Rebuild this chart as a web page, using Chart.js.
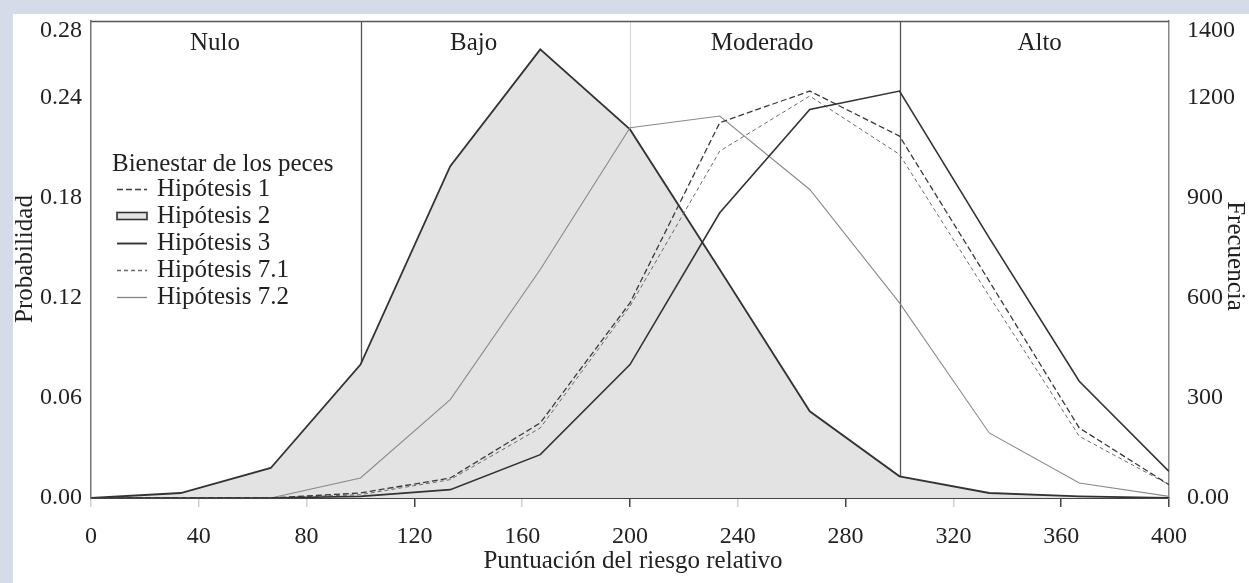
<!DOCTYPE html>
<html><head><meta charset="utf-8">
<script src="https://cdn.jsdelivr.net/npm/chart.js@4.4.0/dist/chart.umd.min.js"></script>
<style>
html,body{margin:0;padding:0;background:#d6dbe9;width:1249px;height:583px;overflow:hidden}
#wrap{position:absolute;left:13px;top:14px;width:1236px;height:569px;background:#fff}
canvas{display:block}
</style></head><body>
<div id="wrap"><canvas id="c" width="1236" height="569"></canvas></div>
<script>
// ---- data ----
const scores  = [0, 33.3, 66.7, 100, 133.3, 166.7, 200, 233.3, 266.7, 300, 333.3, 366.7, 400];
const hip1    = [0, 0, 0, 0.003, 0.012, 0.045, 0.117, 0.225, 0.244, 0.217, 0.130, 0.042, 0.008];
const hip2    = [0, 0.003, 0.018, 0.080, 0.199, 0.269, 0.221, 0.137, 0.052, 0.013, 0.003, 0.001, 0];
const hip3    = [0, 0, 0, 0.001, 0.005, 0.026, 0.080, 0.171, 0.233, 0.244, 0.156, 0.070, 0.016];
const hip71   = [0, 0, 0, 0.002, 0.011, 0.042, 0.115, 0.208, 0.241, 0.206, 0.121, 0.037, 0.008];
const hip72   = [0, 0, 0, 0.012, 0.059, 0.137, 0.222, 0.229, 0.185, 0.117, 0.039, 0.009, 0.001];
const seriesNames = ['Hipótesis 1', 'Hipótesis 2', 'Hipótesis 3', 'Hipótesis 7.1', 'Hipótesis 7.2'];
const xTicks    = [0, 40, 80, 120, 160, 200, 240, 280, 320, 360, 400];
const probTicks = [0, 0.06, 0.12, 0.18, 0.24, 0.28];
const freqTicks = [0, 300, 600, 900, 1200, 1400];
const regionNames  = ['Nulo', 'Bajo', 'Moderado', 'Alto'];
const regionBounds = [100, 200, 300];
const legendTitle = 'Bienestar de los peces';
const xTitle = 'Puntuación del riesgo relativo';
const yTitle = 'Probabilidad';
const y2Title = 'Frecuencia';

const FONT = "'Liberation Serif', 'Times New Roman', serif";
const pts = arr => arr.map((v, i) => ({x: scores[i], y: v}));

const datasets = [
  {label: seriesNames[0], data: pts(hip1),  borderColor: '#3a3a3a', borderWidth: 1.3, borderDash: [6, 3], order: 2, fill: false},
  {label: seriesNames[1], data: pts(hip2),  borderColor: '#333333', borderWidth: 1.8, backgroundColor: '#e3e3e3', fill: 'origin', order: 10, kind: 'box'},
  {label: seriesNames[2], data: pts(hip3),  borderColor: '#333333', borderWidth: 1.6, order: 1, fill: false},
  {label: seriesNames[3], data: pts(hip71), borderColor: '#6a6a6a', borderWidth: 1.0, borderDash: [4, 3], order: 3, fill: false},
  {label: seriesNames[4], data: pts(hip72), borderColor: '#8a8a8a', borderWidth: 1.1, order: 4, fill: false}
];
datasets.forEach(d => { d.pointRadius = 0; d.tension = 0; d.yAxisID = 'y'; });

const regionLabelAt = [46, 142, 249, 352];

const noPad = s => { s.paddingTop = 0; s.paddingBottom = 0; s.paddingLeft = 0; s.paddingRight = 0; };

const deco = {
  id: 'deco',
  beforeDatasetsDraw(chart) {
    const {ctx, chartArea: a, scales: {x}} = chart;
    ctx.save();
    regionBounds.forEach((b, i) => {
      const px = Math.round(x.getPixelForValue(b)) + 0.5;
      ctx.strokeStyle = i === 1 ? '#d4d4d4' : '#555';
      ctx.lineWidth = i === 1 ? 1 : 1.3;
      ctx.beginPath(); ctx.moveTo(px, a.top); ctx.lineTo(px, a.bottom); ctx.stroke();
    });
    ctx.restore();
  },
  afterDraw(chart) {
    const {ctx, chartArea: a, scales: {x}} = chart;
    ctx.save();
    ctx.strokeStyle = '#555'; ctx.lineWidth = 1.5;
    ctx.beginPath(); ctx.moveTo(a.left, a.top + 0.5); ctx.lineTo(a.right, a.top + 0.5); ctx.stroke();
    ctx.fillStyle = '#222';
    ctx.font = '25px ' + FONT;
    ctx.textAlign = 'center'; ctx.textBaseline = 'middle';
    regionNames.forEach((n, i) => ctx.fillText(n, x.getPixelForValue(regionLabelAt[i]), a.top + 22));
    // legend
    ctx.textAlign = 'left';
    ctx.fillText(legendTitle, 99, 150);
    [0, 1, 2, 3, 4].forEach((di, k) => {
      const d = chart.data.datasets[di];
      const y = 175 + k * 27;
      const x0 = 104, x1 = 134;
      if (d.kind === 'box') {
        ctx.fillStyle = d.backgroundColor; ctx.strokeStyle = d.borderColor; ctx.lineWidth = 1.6;
        ctx.fillRect(x0, y - 3.5, x1 - x0, 7); ctx.strokeRect(x0, y - 3.5, x1 - x0, 7);
      } else {
        ctx.strokeStyle = d.borderColor; ctx.lineWidth = d.borderWidth + 0.3;
        ctx.setLineDash(d.borderDash || []);
        ctx.beginPath(); ctx.moveTo(x0, y + 0.5); ctx.lineTo(x1, y + 0.5); ctx.stroke();
        ctx.setLineDash([]);
      }
      ctx.fillStyle = '#222';
      ctx.fillText(d.label, 144, y);
    });
    // axis titles
    ctx.textAlign = 'center';
    ctx.fillText(xTitle, 620, 547);
    ctx.save(); ctx.translate(12, 245); ctx.rotate(-Math.PI / 2); ctx.fillText(yTitle, 0, 0); ctx.restore();
    ctx.save(); ctx.translate(1222, 242); ctx.rotate(Math.PI / 2); ctx.fillText(y2Title, 0, 0); ctx.restore();
    ctx.restore();
  }
};

new Chart(document.getElementById('c'), {
  type: 'line',
  data: {datasets},
  plugins: [deco],
  options: {
    responsive: false, animation: false, devicePixelRatio: 1,
    layout: {padding: {top: 7, left: 0, right: 0, bottom: 0}},
    plugins: {legend: {display: false}, tooltip: {enabled: false}},
    scales: {
      x: {
        type: 'linear', min: 0, max: 400,
        afterBuildTicks: s => { s.ticks = xTicks.map(v => ({value: v})); },
        afterFit: s => { s.height = 85; noPad(s); },
        grid: {display: true, drawOnChartArea: false, drawTicks: true, tickLength: 9, lineWidth: 1.5,
               color: c => ([120, 200, 280, 360, 400].includes(c.tick && c.tick.value) ? '#444' : '#d0d0d0')},
        border: {display: true, color: '#444', width: 2},
        ticks: {padding: 15, color: '#222', font: {family: FONT, size: 24}, autoSkip: false, maxRotation: 0,
                callback: v => String(v)}
      },
      y: {
        position: 'left', min: 0, max: 0.286,
        afterBuildTicks: s => { s.ticks = probTicks.map(v => ({value: v})); },
        afterFit: s => { s.width = 78; noPad(s); },
        grid: {display: false, drawTicks: false},
        border: {display: true, color: '#777', width: 1.5},
        ticks: {padding: 9, color: '#222', font: {family: FONT, size: 24}, callback: v => v.toFixed(2)}
      },
      y2: {
        position: 'right', min: 0, max: 1430,
        afterBuildTicks: s => { s.ticks = freqTicks.map(v => ({value: v})); },
        afterFit: s => { s.width = 80; noPad(s); },
        grid: {display: false, drawTicks: false},
        border: {display: true, color: '#888', width: 1.5},
        ticks: {padding: 18, color: '#222', font: {family: FONT, size: 24}, callback: v => (v === 0 ? '0.00' : String(v))}
      }
    }
  }
});
</script>
</body></html>
